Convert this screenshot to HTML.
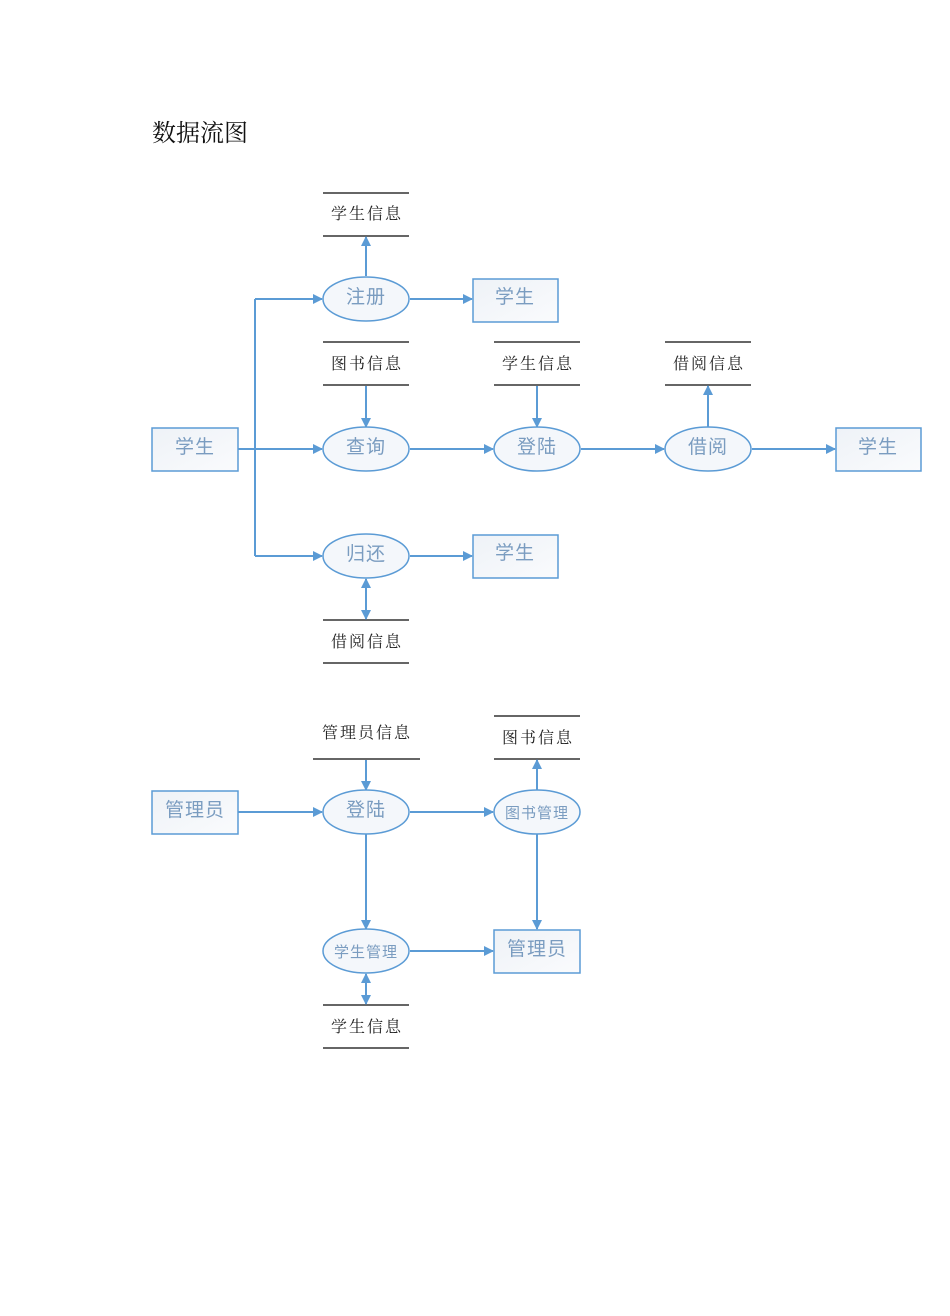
<!DOCTYPE html>
<html><head><meta charset="utf-8">
<style>
html,body{margin:0;padding:0;background:#fff;}
svg{display:block;}
.ds{font-family:"Liberation Serif","Noto Serif CJK SC",serif;font-size:16px;fill:#222;letter-spacing:2px;}
.pt{font-family:"Liberation Sans","Noto Sans CJK SC",sans-serif;font-size:19px;fill:#7a9cc0;letter-spacing:1px;}
.pts{font-family:"Liberation Sans","Noto Sans CJK SC",sans-serif;font-size:15px;fill:#7a9cc0;letter-spacing:1px;}
.dl{stroke:#333;stroke-width:1.5;}
.fl{stroke:#5b9bd5;stroke-width:2;fill:none;}
.el{fill:#f4f7fb;stroke:#5b9bd5;stroke-width:1.5;}
.bx{fill:url(#g);stroke:#5b9bd5;stroke-width:1.5;}
</style></head><body>
<svg width="950" height="1316" viewBox="0 0 950 1316" xmlns="http://www.w3.org/2000/svg">
<defs>
<linearGradient id="g" x1="0" y1="0" x2="1" y2="1"><stop offset="0" stop-color="#eef2f7"/><stop offset="1" stop-color="#fafbfd"/></linearGradient>
<marker id="a" markerWidth="10" markerHeight="10" refX="9" refY="5" orient="auto" markerUnits="userSpaceOnUse"><path d="M0,0 L10,5 L0,10 z" fill="#5b9bd5"/></marker>
<marker id="s" markerWidth="10" markerHeight="10" refX="1" refY="5" orient="auto" markerUnits="userSpaceOnUse"><path d="M10,0 L0,5 L10,10 z" fill="#5b9bd5"/></marker>
</defs>
<text x="152" y="141" font-family="Liberation Serif,'Noto Serif CJK SC',serif" font-size="24" fill="#111">数据流图</text>

<!-- data stores -->
<g class="dl">
<line x1="323" y1="193" x2="409" y2="193"/><line x1="323" y1="236" x2="409" y2="236"/>
<line x1="323" y1="342" x2="409" y2="342"/><line x1="323" y1="385" x2="409" y2="385"/>
<line x1="494" y1="342" x2="580" y2="342"/><line x1="494" y1="385" x2="580" y2="385"/>
<line x1="665" y1="342" x2="751" y2="342"/><line x1="665" y1="385" x2="751" y2="385"/>
<line x1="323" y1="620" x2="409" y2="620"/><line x1="323" y1="663" x2="409" y2="663"/>
<line x1="313" y1="759" x2="420" y2="759"/>
<line x1="494" y1="716" x2="580" y2="716"/><line x1="494" y1="759" x2="580" y2="759"/>
<line x1="323" y1="1005" x2="409" y2="1005"/><line x1="323" y1="1048" x2="409" y2="1048"/>
</g>
<g class="ds" text-anchor="middle">
<text x="367" y="219">学生信息</text>
<text x="367" y="369">图书信息</text>
<text x="538" y="369">学生信息</text>
<text x="709" y="369">借阅信息</text>
<text x="367" y="647">借阅信息</text>
<text x="367" y="738">管理员信息</text>
<text x="538" y="743">图书信息</text>
<text x="367" y="1032">学生信息</text>
</g>

<!-- flows -->
<g class="fl">
<line x1="366" y1="276" x2="366" y2="237" marker-end="url(#a)"/>
<line x1="410" y1="299" x2="472" y2="299" marker-end="url(#a)"/>
<line x1="255" y1="299" x2="255" y2="556"/>
<line x1="255" y1="299" x2="322" y2="299" marker-end="url(#a)"/>
<line x1="255" y1="556" x2="322" y2="556" marker-end="url(#a)"/>
<line x1="238" y1="449" x2="322" y2="449" marker-end="url(#a)"/>
<line x1="366" y1="386" x2="366" y2="427" marker-end="url(#a)"/>
<line x1="410" y1="449" x2="493" y2="449" marker-end="url(#a)"/>
<line x1="537" y1="386" x2="537" y2="427" marker-end="url(#a)"/>
<line x1="581" y1="449" x2="664" y2="449" marker-end="url(#a)"/>
<line x1="708" y1="427" x2="708" y2="386" marker-end="url(#a)"/>
<line x1="752" y1="449" x2="835" y2="449" marker-end="url(#a)"/>
<line x1="410" y1="556" x2="472" y2="556" marker-end="url(#a)"/>
<line x1="366" y1="579" x2="366" y2="619" marker-start="url(#s)" marker-end="url(#a)"/>
<line x1="366" y1="760" x2="366" y2="790" marker-end="url(#a)"/>
<line x1="238" y1="812" x2="322" y2="812" marker-end="url(#a)"/>
<line x1="410" y1="812" x2="493" y2="812" marker-end="url(#a)"/>
<line x1="537" y1="790" x2="537" y2="760" marker-end="url(#a)"/>
<line x1="537" y1="834" x2="537" y2="929" marker-end="url(#a)"/>
<line x1="366" y1="834" x2="366" y2="929" marker-end="url(#a)"/>
<line x1="410" y1="951" x2="493" y2="951" marker-end="url(#a)"/>
<line x1="366" y1="974" x2="366" y2="1004" marker-start="url(#s)" marker-end="url(#a)"/>
</g>

<!-- processes -->
<g class="el">
<ellipse cx="366" cy="299" rx="43" ry="22"/>
<ellipse cx="366" cy="449" rx="43" ry="22"/>
<ellipse cx="537" cy="449" rx="43" ry="22"/>
<ellipse cx="708" cy="449" rx="43" ry="22"/>
<ellipse cx="366" cy="556" rx="43" ry="22"/>
<ellipse cx="366" cy="812" rx="43" ry="22"/>
<ellipse cx="537" cy="812" rx="43" ry="22"/>
<ellipse cx="366" cy="951" rx="43" ry="22"/>
</g>
<g class="pt" text-anchor="middle">
<text x="366" y="303">注册</text>
<text x="366" y="453">查询</text>
<text x="537" y="453">登陆</text>
<text x="708" y="453">借阅</text>
<text x="366" y="560">归还</text>
<text x="366" y="816">登陆</text>
</g>
<g class="pts" text-anchor="middle">
<text x="537" y="818">图书管理</text>
<text x="366" y="957">学生管理</text>
</g>

<!-- entities -->
<g class="bx">
<rect x="152" y="428" width="86" height="43"/>
<rect x="473" y="279" width="85" height="43"/>
<rect x="836" y="428" width="85" height="43"/>
<rect x="473" y="535" width="85" height="43"/>
<rect x="152" y="791" width="86" height="43"/>
<rect x="494" y="930" width="86" height="43"/>
</g>
<g class="pt" text-anchor="middle">
<text x="195" y="453">学生</text>
<text x="515" y="303">学生</text>
<text x="878" y="453">学生</text>
<text x="515" y="559">学生</text>
<text x="195" y="816">管理员</text>
<text x="537" y="955">管理员</text>
</g>
</svg>
</body></html>
